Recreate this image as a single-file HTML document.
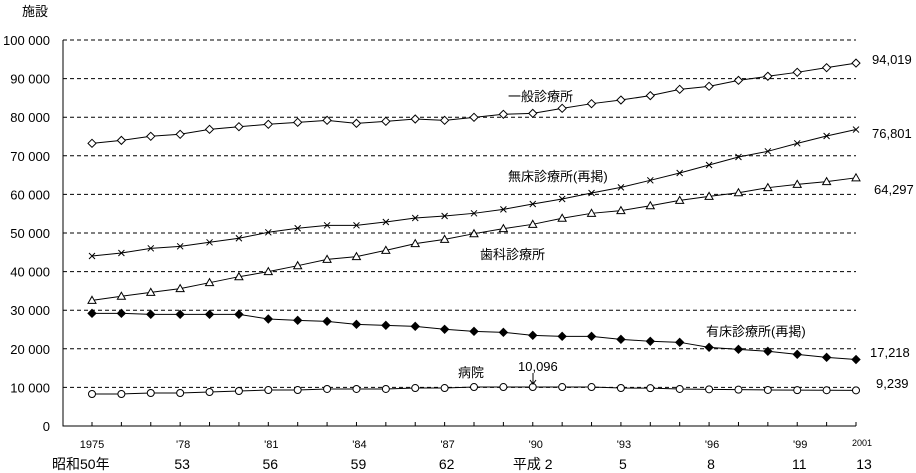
<!DOCTYPE html>
<html><head><meta charset="utf-8"><style>
body{margin:0;background:#fff;}
svg{display:block;font-family:"Liberation Sans","Noto Sans CJK JP",sans-serif;}
</style></head><body>
<svg id="c" width="916" height="473"></svg>
<script>
const years=[1975,1976,1977,1978,1979,1980,1981,1982,1983,1984,1985,1986,1987,1988,1989,1990,1991,1992,1993,1994,1995,1996,1997,1998,1999,2000,2001];
const general=[73230,74000,75050,75570,76860,77540,78160,78670,79190,78410,78930,79530,79190,79970,80750,81000,82300,83500,84450,85580,87220,88000,89550,90600,91630,92830,94019];
const noBed=[44040,44820,46030,46550,47590,48630,50180,51220,51990,51990,52850,53890,54400,55100,56130,57510,58810,60360,61830,63650,65540,67620,69690,71160,73230,75130,76801];
const dental=[32560,33600,34630,35580,37130,38680,39980,41530,43180,43870,45510,47240,48360,49820,51120,52250,53810,55100,55800,57070,58460,59500,60440,61740,62610,63300,64297];
const withBed=[29190,29190,28930,28930,28930,28930,27720,27380,27120,26340,26080,25820,25050,24530,24270,23490,23230,23230,22450,21940,21680,20380,19860,19350,18570,17790,17218];
const hospital=[8290,8290,8550,8550,8810,9070,9330,9330,9590,9590,9590,9840,9840,10096,10096,10096,10096,10096,9844,9800,9600,9500,9413,9333,9286,9266,9239];
const yTicks=[0,10000,20000,30000,40000,50000,60000,70000,80000,90000,100000];
const yTickLabels=["0","10 000","20 000","30 000","40 000","50 000","60 000","70 000","80 000","90 000","100 000"];
const xLabelYears=["1975","'78","'81","'84","'87","'90","'93","'96","'99","2001"];
const eraLabels=["昭和50年","53","56","59","62","平成 2","5","8","11","13"];

const svg=document.getElementById('c');
const NS='http://www.w3.org/2000/svg';
const X0=63,X1=856,Y0=426,Y1=40;
const px=i=>92+i*(856-92)/(years.length-1);
const py=v=>Y0-(v/100000)*(Y0-Y1);
function mk(t,a,p){const e=document.createElementNS(NS,t);for(const k in a)e.setAttribute(k,a[k]);(p||svg).appendChild(e);return e;}
function txt(s,x,y,size,anchor,name){const e=mk('text',{x:x,y:y,'font-size':size,'text-anchor':anchor||'start',fill:'#000'});e.textContent=s;


return e;}

// grid + y ticks
yTicks.forEach((v,i)=>{
  if(v>0){const g=mk('line',{x1:X0,x2:X1,y1:py(v),y2:py(v),stroke:'#000','stroke-width':1,'stroke-dasharray':'4,3'});
  
  }
  txt(yTickLabels[i],50,py(v)+5,13,'end','y-tick-label');
});
const ax=mk('path',{d:`M${X0} ${Y1}V${Y0}H${X1}`,fill:'none',stroke:'#000','stroke-width':1});


years.forEach((y,i)=>{const t=mk('line',{x1:px(i),x2:px(i),y1:Y0,y2:Y0-4,stroke:'#000'});

});
txt('施設',22,16,13,'start','y-axis-title');
xLabelYears.forEach((s,k)=>{const i=k===9?26:k*3;
  txt(s,k===9?px(i)+6:px(i)+(k===0?0:3),k===9?446:448,k===9?9:11,'middle','x-year-label');
  txt(eraLabels[k],k===0?52:(k===9?px(i)+8:px(i)+(k===5?0:2)),469,14,k===0?'start':'middle','x-era-label');
});

function series(vals,name,marker){
  const g=mk('g',{});
  
  
  mk('polyline',{points:vals.map((v,i)=>px(i)+','+py(v)).join(' '),fill:'none',stroke:'#000','stroke-width':1},g);
  vals.forEach((v,i)=>{const x=px(i),y=py(v);let m;
    if(marker==='odiamond')m=mk('path',{d:`M${x} ${y-4}L${x+4} ${y}L${x} ${y+4}L${x-4} ${y}Z`,fill:'#fff',stroke:'#000'},g);
    else if(marker==='fdiamond')m=mk('path',{d:`M${x} ${y-4}L${x+4} ${y}L${x} ${y+4}L${x-4} ${y}Z`,fill:'#000',stroke:'#000'},g);
    else if(marker==='tri')m=mk('path',{d:`M${x} ${y-4}L${x+4} ${y+3}L${x-4} ${y+3}Z`,fill:'#fff',stroke:'#000'},g);
    else if(marker==='circ')m=mk('circle',{cx:x,cy:y,r:3.5,fill:'#fff',stroke:'#000'},g);
    else m=mk('path',{d:`M${x-3} ${y-3}L${x+3} ${y+3}M${x-3} ${y+3}L${x+3} ${y-3}`,stroke:'#000'},g);
    
    
  });
}
series(general,'general-clinic-series','odiamond');
series(noBed,'no-bed-clinic-series','x');
series(dental,'dental-clinic-series','tri');
series(withBed,'bed-clinic-series','fdiamond');
series(hospital,'hospital-series','circ');

txt('一般診療所',508,101,13,'start','general-clinic-label');
txt('無床診療所(再掲)',508,181,13,'start','no-bed-clinic-label');
txt('歯科診療所',480,259,13,'start','dental-clinic-label');
txt('有床診療所(再掲)',706,336,13,'start','bed-clinic-label');
txt('病院',458,377,13,'start','hospital-label');
txt('10,096',518,371,13,'start','hospital-peak-value');
const ar=mk('path',{d:'M533 373V384M530 380L533 384L536 380',fill:'none',stroke:'#000'});


txt('94,019',872,64,13,'start','general-end-value');
txt('76,801',872,138,13,'start','no-bed-end-value');
txt('64,297',874,194,13,'start','dental-end-value');
txt('17,218',870,357,13,'start','bed-end-value');
txt('9,239',876,388,13,'start','hospital-end-value');
</script>
</body></html>
